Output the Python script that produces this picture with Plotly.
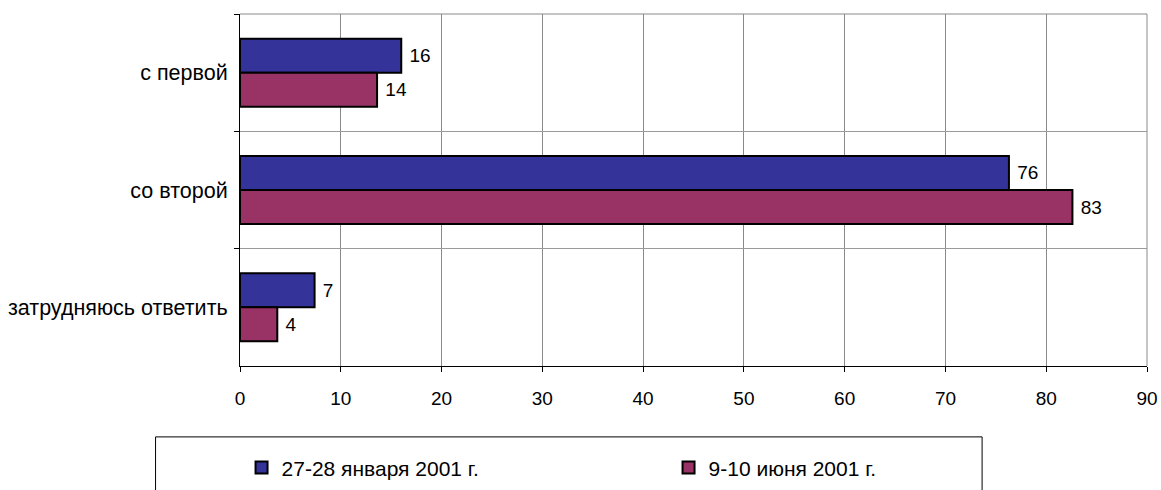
import plotly.graph_objects as go

categories = ["с первой", "со второй", "затрудняюсь ответить"]
series_names = ["27-28 января 2001 г.", "9-10 июня 2001 г."]
jan_values = [16.0, 76.3, 7.4]
jun_values = [13.6, 82.6, 3.7]
x_ticks = [0, 10, 20, 30, 40, 50, 60, 70, 80, 90]

colors = ["#333399", "#993366"]
FONT = "Arial, 'Liberation Sans', sans-serif"

fig = go.Figure()
for name, vals, col in zip(series_names, [jan_values, jun_values], colors):
    fig.add_trace(go.Bar(
        y=categories, x=vals, name=name, orientation="h",
        marker=dict(color=col, line=dict(color="black", width=2)),
        texttemplate=" %{x:.0f}", textposition="outside",
        textfont=dict(family=FONT, size=19, color="black"),
        constraintext="none", cliponaxis=False,
    ))

fig.update_layout(
    width=1161, height=490,
    margin=dict(l=239.5, r=14, t=13.5, b=124, autoexpand=False),
    paper_bgcolor="white", plot_bgcolor="white",
    barmode="group", bargap=0.42, bargroupgap=0,
    font=dict(family=FONT, size=18, color="black"),
    showlegend=True,
    legend=dict(orientation="h", x=0.0017, xanchor="left", y=-0.289, yanchor="middle",
                font=dict(family=FONT, size=21, color="black"),
                entrywidth=382, entrywidthmode="pixels", itemwidth=30,
                bgcolor="rgba(0,0,0,0)", traceorder="normal"),
    xaxis=dict(range=[0, 90], tickvals=x_ticks, showgrid=True, gridcolor="#8a8a8a", gridwidth=1,
               showline=True, linecolor="black", linewidth=1, ticks="outside", ticklen=5,
               tickcolor="black", zeroline=False, ticklabelstandoff=10,
               tickfont=dict(family=FONT, size=19, color="black")),
    yaxis=dict(autorange="reversed", tickson="boundaries", showgrid=True, gridcolor="#9a9a9a",
               gridwidth=1, showline=True, linecolor="black", linewidth=1, ticks="outside",
               ticklen=5, tickcolor="black", ticklabelstandoff=7,
               tickfont=dict(family=FONT, size=21.5, color="black")),
    shapes=[
        dict(type="line", xref="paper", yref="paper", x0=0, x1=1, y0=1, y1=1,
             line=dict(color="#8a8a8a", width=1), layer="below"),
        dict(type="line", xref="paper", yref="paper", x0=1, x1=1, y0=0, y1=1,
             line=dict(color="#8a8a8a", width=1), layer="below"),
        dict(type="rect", xref="paper", yref="paper", x0=-0.0931, x1=0.8182, y0=-0.2014, y1=-0.6,
             line=dict(color="black", width=1), fillcolor="rgba(0,0,0,0)"),
    ],
)

fig.write_html("out.html", config={"displayModeBar": False},
               post_script="document.body.style.margin='0';document.body.style.padding='0';")
